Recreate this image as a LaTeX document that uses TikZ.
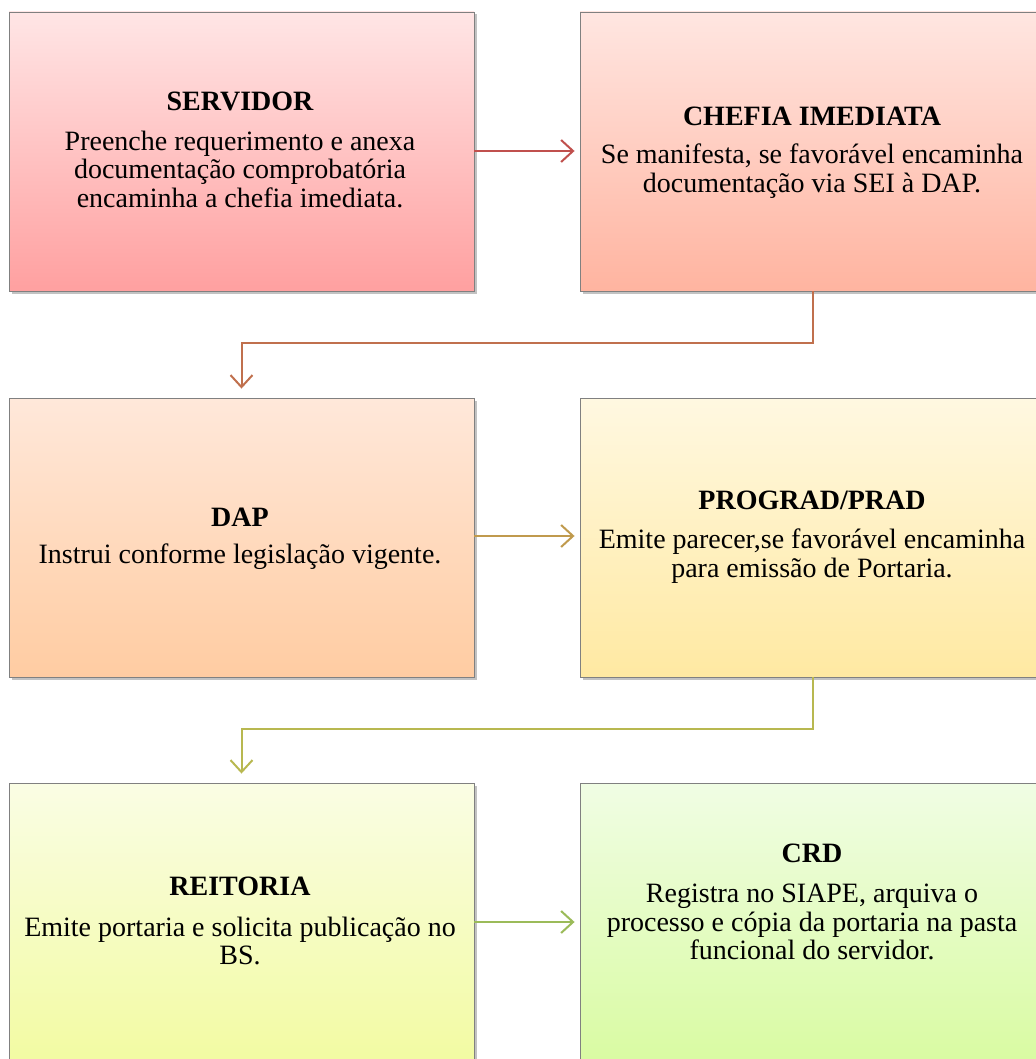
\documentclass[tikz,border=0pt]{standalone}
\usepackage{fontspec}
\setmainfont{Liberation Serif}
\usetikzlibrary{arrows.meta,shadows,calc}
\begin{document}
\begin{tikzpicture}[x=1pt,y=1pt,
  box/.style={draw=black!50, line width=0.9pt, minimum width=465pt, minimum height=279pt, inner sep=0pt,
    drop shadow={shadow xshift=2.5pt, shadow yshift=-2.5pt, opacity=0.4, fill=black!60}},
  txt/.style={font=\fontsize{28}{28.5}\selectfont, align=center, inner sep=0pt},
  ttl/.style={font=\fontsize{28}{28.5}\selectfont\bfseries, inner sep=0pt},
  arr/.style={line width=2pt, -{Straight Barb[length=12pt,width=22pt,line width=2pt]}}
]
\useasboundingbox (0,0) rectangle (1035,-1059);
\node[box, top color=red!10!white, bottom color={rgb,255:red,255;green,160;blue,160}] (b1) at (241.5,-151.5) {};
\node[box, top color={rgb,255:red,255;green,230;blue,225}, bottom color={rgb,255:red,255;green,180;blue,160}] (b2) at (812.5,-151.5) {};
\node[box, top color={rgb,255:red,255;green,232;blue,218}, bottom color={rgb,255:red,255;green,204;blue,162}] (b3) at (241.5,-537.5) {};
\node[box, top color={rgb,255:red,255;green,248;blue,225}, bottom color={rgb,255:red,255;green,233;blue,162}] (b4) at (812.5,-537.5) {};
\node[box, top color={rgb,255:red,250;green,253;blue,228}, bottom color={rgb,255:red,242;green,251;blue,162}] (b5) at (241.5,-922.5) {};
\node[box, top color={rgb,255:red,240;green,253;blue,228}, bottom color={rgb,255:red,217;green,251;blue,162}] (b6) at (812.5,-922.5) {};

\node[ttl] (t1) at (240,-101) {SERVIDOR};
\node[txt] (d1) at (240,-169) {Preenche requerimento e anexa\\documentação comprobatória\\encaminha a chefia imediata.};
\node[ttl] (t2) at (812,-116) {CHEFIA IMEDIATA};
\node[txt] (d2) at (812,-171) {Se manifesta, se favorável encaminha\\documentação via SEI à DAP.};
\node[ttl] (t3) at (240,-517) {DAP};
\node[txt] (d3) at (240,-557) {Instrui conforme legislação vigente.};
\node[ttl] (t4) at (812,-500) {PROGRAD/PRAD};
\node[txt] (d4) at (812,-556) {Emite parecer,se favorável encaminha\\para emissão de Portaria.};
\node[ttl] (t5) at (240,-886) {REITORIA};
\node[txt] (d5) at (240,-941) {Emite portaria e solicita publicação no\\BS.};
\node[ttl] (t6) at (812,-853) {CRD};
\node[txt] (d6) at (812,-922) {Registra no SIAPE, arquiva o\\processo e cópia da portaria na pasta\\funcional do servidor.};

\draw[arr, draw={rgb,255:red,192;green,80;blue,77}] (b1.east |- 0,-151) -- ([xshift=-5pt]b2.west |- 0,-151);
\draw[arr, draw={rgb,255:red,192;green,112;blue,77}] (b2.south) -- ++(0,-52) -| ([yshift=9pt]b3.north);
\draw[arr, draw={rgb,255:red,192;green,154;blue,77}] (b3.east |- 0,-536) -- ([xshift=-5pt]b4.west |- 0,-536);
\draw[arr, draw={rgb,255:red,184;green,184;blue,80}] (b4.south) -- ++(0,-52) -| ([yshift=9pt]b5.north);
\draw[arr, draw={rgb,255:red,155;green,187;blue,89}] (b5.east |- 0,-922) -- ([xshift=-5pt]b6.west |- 0,-922);
\end{tikzpicture}
\end{document}
